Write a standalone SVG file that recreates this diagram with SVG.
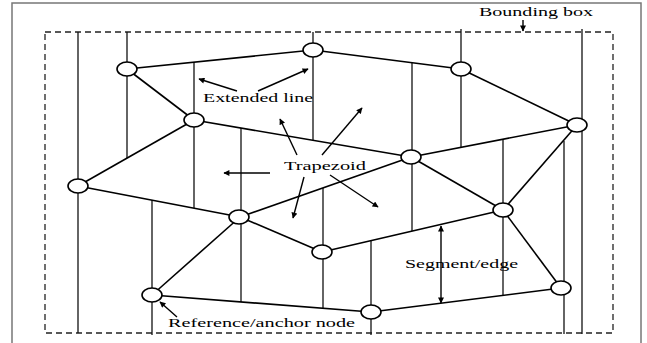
<svg xmlns="http://www.w3.org/2000/svg" width="647" height="343" viewBox="0 0 647 343">
<defs>
<style>
.frame{fill:none;stroke:#777;stroke-width:1.5}
.bbox{fill:none;stroke:#222;stroke-width:1.3;stroke-dasharray:6 4}
.v{stroke:#111;stroke-width:1.3;fill:none}
.e{stroke:#000;stroke-width:1.6;fill:none}
.a{stroke:#000;stroke-width:1.4;fill:none}
.n{fill:#fff;stroke:#000;stroke-width:1.6}
.t{font-family:"Liberation Serif","Times New Roman",serif;font-size:13px;fill:#000}
</style>
<marker id="ah" viewBox="0 0 10 10" refX="9" refY="5" markerWidth="7" markerHeight="6" markerUnits="userSpaceOnUse" orient="auto-start-reverse">
<path d="M0,0 L10,5 L0,10 z" fill="#000"/>
</marker>
</defs>
<rect width="647" height="343" fill="#fff"/>
<rect class="frame" x="12" y="3" width="629" height="350"/>
<rect class="bbox" x="45" y="32" width="568" height="301"/>
<g id="extension-lines">
<line class="v" x1="78" y1="32" x2="78" y2="333"/>
<line class="v" x1="127" y1="32" x2="127" y2="158"/>
<line class="v" x1="152" y1="200" x2="152" y2="335"/>
<line class="v" x1="194" y1="62" x2="194" y2="208"/>
<line class="v" x1="241" y1="128" x2="241" y2="302"/>
<line class="v" x1="313" y1="32" x2="313" y2="140"/>
<line class="v" x1="323" y1="188" x2="323" y2="308"/>
<line class="v" x1="371" y1="241" x2="371" y2="335"/>
<line class="v" x1="412" y1="63" x2="412" y2="231"/>
<line class="v" x1="461" y1="29" x2="461" y2="147"/>
<line class="v" x1="503" y1="139" x2="503" y2="295"/>
<line class="v" x1="564" y1="141" x2="564" y2="334"/>
<line class="v" x1="582" y1="29" x2="582" y2="334"/>
</g>
<g id="connectors">
<line class="e" x1="127" y1="69" x2="313" y2="50"/>
<line class="e" x1="313" y1="50" x2="461" y2="69"/>
<line class="e" x1="461" y1="69" x2="577" y2="125"/>
<line class="e" x1="127" y1="69" x2="194" y2="120"/>
<line class="e" x1="194" y1="120" x2="78" y2="186"/>
<line class="e" x1="194" y1="120" x2="411" y2="157"/>
<line class="e" x1="78" y1="186" x2="240" y2="217"/>
<line class="e" x1="240" y1="217" x2="411" y2="157"/>
<line class="e" x1="411" y1="157" x2="577" y2="125"/>
<line class="e" x1="411" y1="157" x2="503" y2="210"/>
<line class="e" x1="577" y1="125" x2="503" y2="210"/>
<line class="e" x1="240" y1="217" x2="322" y2="252"/>
<line class="e" x1="322" y1="252" x2="503" y2="210"/>
<line class="e" x1="240" y1="217" x2="152" y2="295"/>
<line class="e" x1="152" y1="295" x2="371" y2="312"/>
<line class="e" x1="371" y1="312" x2="561" y2="288"/>
<line class="e" x1="503" y1="210" x2="561" y2="288"/>
</g>
<g id="node-1"><ellipse class="n" cx="127" cy="69" rx="10" ry="7"/></g>
<g id="node-2"><ellipse class="n" cx="313" cy="50" rx="10" ry="7"/></g>
<g id="node-3"><ellipse class="n" cx="461" cy="69" rx="10" ry="7"/></g>
<g id="node-4"><ellipse class="n" cx="577" cy="125" rx="10" ry="7"/></g>
<g id="node-5"><ellipse class="n" cx="194" cy="120" rx="10" ry="7"/></g>
<g id="node-6"><ellipse class="n" cx="78" cy="186" rx="10" ry="7"/></g>
<g id="node-7"><ellipse class="n" cx="411" cy="157" rx="10" ry="7"/></g>
<g id="node-8"><ellipse class="n" cx="239" cy="217" rx="10" ry="7"/></g>
<g id="node-9"><ellipse class="n" cx="503" cy="210" rx="10" ry="7"/></g>
<g id="node-10"><ellipse class="n" cx="322" cy="252" rx="10" ry="7"/></g>
<g id="node-11"><ellipse class="n" cx="152" cy="295" rx="10" ry="7"/></g>
<g id="node-12"><ellipse class="n" cx="371" cy="312" rx="10" ry="7"/></g>
<g id="node-13"><ellipse class="n" cx="561" cy="288" rx="10" ry="7"/></g>
<g id="annotations">
<text class="t" x="479" y="16" textLength="114" lengthAdjust="spacingAndGlyphs">Bounding box</text>
<line class="a" x1="523" y1="20" x2="523" y2="31" marker-end="url(#ah)"/>
<text class="t" x="203" y="102" textLength="110" lengthAdjust="spacingAndGlyphs">Extended line</text>
<line class="a" x1="237" y1="91" x2="199" y2="79" marker-end="url(#ah)"/>
<line class="a" x1="258" y1="91" x2="308" y2="69" marker-end="url(#ah)"/>
<text class="t" x="284" y="170" textLength="82" lengthAdjust="spacingAndGlyphs">Trapezoid</text>
<line class="a" x1="297" y1="155" x2="280" y2="119" marker-end="url(#ah)"/>
<line class="a" x1="322" y1="155" x2="362" y2="108" marker-end="url(#ah)"/>
<line class="a" x1="304" y1="177" x2="293" y2="218" marker-end="url(#ah)"/>
<line class="a" x1="330" y1="175" x2="378" y2="207" marker-end="url(#ah)"/>
<line class="a" x1="270" y1="173" x2="224" y2="173" marker-end="url(#ah)"/>
<text class="t" x="405" y="268" textLength="113" lengthAdjust="spacingAndGlyphs">Segment/edge</text>
<line class="a" x1="441" y1="226" x2="441" y2="303" marker-start="url(#ah)" marker-end="url(#ah)"/>
<text class="t" x="168" y="327" textLength="187" lengthAdjust="spacingAndGlyphs">Reference/anchor node</text>
<line class="a" x1="177" y1="317" x2="160" y2="302" marker-end="url(#ah)"/>
</g>
</svg>
